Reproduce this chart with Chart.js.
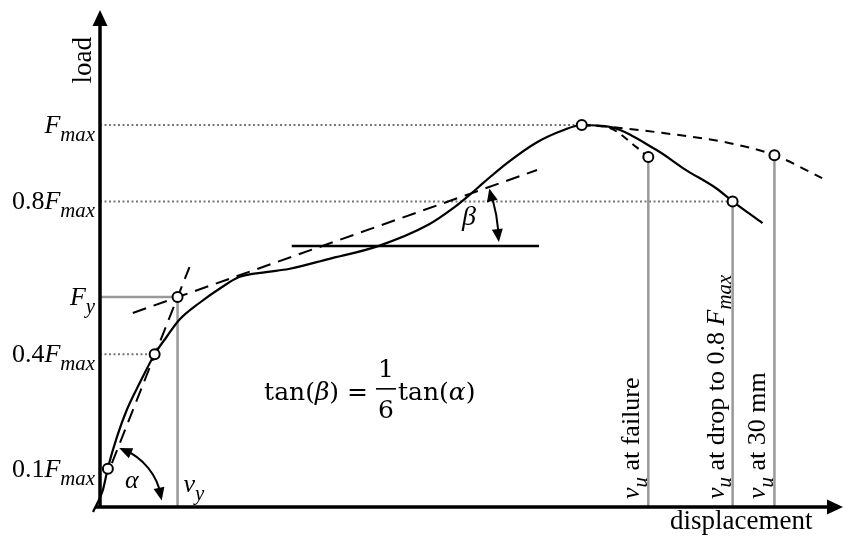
<!DOCTYPE html>
<html>
<head>
<meta charset="utf-8">
<script src="https://cdn.jsdelivr.net/npm/chart.js@4.4.1/dist/chart.umd.min.js"></script>
<style>
    body { margin: 0; background: #fff; }
    #wrap { width: 850px; height: 537px; }
</style>
</head>
<body>
<div id="wrap"><canvas id="chart"></canvas></div>
<script>
// displacement in mm, load as a fraction of Fmax
const loadCurve = [
    [-0.31, -0.013], [0.13, 0.045], [0.35, 0.102], [0.75, 0.183], [1.19, 0.254], [1.77, 0.325],
    [2.43, 0.40], [2.96, 0.445], [3.53, 0.49], [4.42, 0.534], [5.43, 0.576], [6.19, 0.602],
    [7.38, 0.615], [8.39, 0.623], [10.16, 0.649], [12.37, 0.683], [14.58, 0.738], [15.77, 0.785],
    [16.44, 0.817], [17.10, 0.851], [18.12, 0.901], [19.44, 0.955], [20.63, 0.987], [21.43, 1.0],
    [22.67, 0.995], [24.74, 0.935], [26.07, 0.882], [27.39, 0.835], [28.14, 0.80], [29.47, 0.743]
];
const initialTangent = [[0.53, 0.115], [3.98, 0.628]];
const postYieldTangent = [[1.46, 0.508], [19.44, 0.882]];
const horizontalRef = [[8.53, 0.683], [19.53, 0.683]];
const failureBranch = [[21.43, 1.0], [22.67, 0.992], [23.86, 0.942], [24.39, 0.916]];
const extrapolated = [[21.43, 1.0], [22.67, 0.995], [25.05, 0.979], [27.97, 0.953], [30.0, 0.921], [32.12, 0.861]];
const markers = [[0.35, 0.1], [2.43, 0.4], [3.45, 0.55], [21.43, 1.0], [24.39, 0.916], [28.14, 0.8], [30.0, 0.921]];

const yieldPoint = [3.45, 0.55];
const dottedLevels = [[1.0, 21.43], [0.8, 28.14], [0.4, 2.43]];   // [load, end displacement]
const ultimateDisp = [24.39, 28.14, 30.0];
const ultimateLoad = [0.916, 0.8, 0.921];
const ultimateLabels = [
    [{t: 'v', it: true}, {t: 'u', it: true, sub: true}, {t: ' at failure'}],
    [{t: 'v', it: true}, {t: 'u', it: true, sub: true}, {t: ' at drop to 0.8 '}, {t: 'F', it: true}, {t: 'max', it: true, sub: true}],
    [{t: 'v', it: true}, {t: 'u', it: true, sub: true}, {t: ' at 30 mm'}]
];

const tickValues = [1.0, 0.8, 0.55, 0.4, 0.1];
const tickPrefix = ['', '0.8', '', '0.4', '0.1'];
const tickSub = ['max', 'max', 'y', 'max', 'max'];

const toXY = arr => arr.map(p => ({x: p[0], y: p[1]}));
const SERIF = '"Liberation Serif", "Times New Roman", serif';

function line(data, opts) {
    return Object.assign({
        data: toXY(data), showLine: true, pointRadius: 0, borderColor: '#000',
        borderWidth: 2, fill: false, clip: false, order: 2
    }, opts);
}

const refLines = [];
refLines.push(line([[0, yieldPoint[1]], yieldPoint], {borderColor: '#999', borderWidth: 2.5, order: 5}));
refLines.push(line([[yieldPoint[0], 0], yieldPoint], {borderColor: '#999', borderWidth: 2.5, order: 5}));
ultimateDisp.forEach((d, i) => {
    refLines.push(line([[d, 0], [d, ultimateLoad[i]]], {borderColor: '#999', borderWidth: 2.5, order: 5}));
});
dottedLevels.forEach(l => {
    refLines.push(line([[0, l[0]], [l[1], l[0]]], {borderColor: '#777', borderWidth: 2, borderDash: [2, 2.5], order: 5}));
});

function richWidth(ctx, segs, size) {
    let w = 0;
    segs.forEach(s => {
        ctx.font = (s.it ? 'italic ' : '') + (s.sub ? size * 0.8 : size) + 'px ' + SERIF;
        w += ctx.measureText(s.t).width;
    });
    return w;
}

function drawRich(ctx, x, y, segs, size) {
    ctx.textAlign = 'left';
    ctx.textBaseline = 'alphabetic';
    segs.forEach(s => {
        ctx.font = (s.it ? 'italic ' : '') + (s.sub ? size * 0.8 : size) + 'px ' + SERIF;
        ctx.fillText(s.t, x, s.sub ? y + size * 0.3 : y);
        x += ctx.measureText(s.t).width;
    });
}

function arrowHead(ctx, x, y, angle, len, half) {
    ctx.save();
    ctx.translate(x, y);
    ctx.rotate(angle);
    ctx.beginPath();
    ctx.moveTo(0, 0);
    ctx.lineTo(-len, -half);
    ctx.lineTo(-len, half);
    ctx.closePath();
    ctx.fill();
    ctx.restore();
}

function angleArc(ctx, cx, cy, r, a0, a1) {
    // a0 < a1, angles measured counterclockwise from +x in degrees
    const s = -a1 * Math.PI / 180, e = -a0 * Math.PI / 180;
    ctx.beginPath();
    ctx.arc(cx, cy, r, s + 0.06, e - 0.06);
    ctx.stroke();
    // upper end points counterclockwise, lower end clockwise
    arrowHead(ctx, cx + r * Math.cos(s), cy + r * Math.sin(s), s - Math.PI / 2 + 0.1, 13, 5.5);
    arrowHead(ctx, cx + r * Math.cos(e), cy + r * Math.sin(e), e + Math.PI / 2 - 0.1, 13, 5.5);
}

const sketchPlugin = {
    id: 'sketch',
    afterDatasetsDraw(chart) {
        const ctx = chart.ctx;
        const xs = chart.scales.x, ys = chart.scales.y;
        const ox = xs.getPixelForValue(0), oy = ys.getPixelForValue(0);
        ctx.save();
        ctx.fillStyle = '#000';
        ctx.strokeStyle = '#000';

        // axes with arrow heads
        ctx.lineWidth = 3.5;
        ctx.beginPath();
        ctx.moveTo(ox, oy + 1.5);
        ctx.lineTo(ox, chart.chartArea.top + 12);
        ctx.moveTo(ox - 4, oy);
        ctx.lineTo(chart.chartArea.right - 12, oy);
        ctx.stroke();
        arrowHead(ctx, ox, chart.chartArea.top, -Math.PI / 2, 16, 7.5);
        arrowHead(ctx, chart.chartArea.right, oy, 0, 16, 7.5);

        // y tick labels
        tickValues.forEach((v, i) => {
            const segs = [];
            if (tickPrefix[i]) segs.push({t: tickPrefix[i]});
            segs.push({t: 'F', it: true}, {t: tickSub[i], it: true, sub: true});
            const w = richWidth(ctx, segs, 26);
            drawRich(ctx, ox - 5 - w, ys.getPixelForValue(v) + 8, segs, 26);
        });

        // axis titles
        ctx.font = '27px ' + SERIF;
        ctx.save();
        ctx.translate(ox - 9, 37);
        ctx.rotate(-Math.PI / 2);
        ctx.textAlign = 'right';
        ctx.fillText('load', 0, 0);
        ctx.restore();
        ctx.textAlign = 'left';
        ctx.fillText('displacement', 670, oy + 22);

        // ultimate displacement labels
        ultimateDisp.forEach((d, i) => {
            ctx.save();
            ctx.translate(xs.getPixelForValue(d) - 9, oy - 8);
            ctx.rotate(-Math.PI / 2);
            drawRich(ctx, 0, 0, ultimateLabels[i], 26);
            ctx.restore();
        });

        // v_y, alpha, beta
        drawRich(ctx, xs.getPixelForValue(yieldPoint[0]) + 6, oy - 15, [{t: 'v', it: true}, {t: 'y', it: true, sub: true}], 26);
        drawRich(ctx, ox + 25, oy - 19, [{t: 'α', it: true}], 26);

        ctx.lineWidth = 2;
        angleArc(ctx, ox, oy, 62, 6, 72);
        const by = ys.getPixelForValue(horizontalRef[0][1]);
        const slope = (postYieldTangent[1][1] - postYieldTangent[0][1]) / (postYieldTangent[1][0] - postYieldTangent[0][0]);
        const bx = xs.getPixelForValue(postYieldTangent[0][0] + (horizontalRef[0][1] - postYieldTangent[0][1]) / slope);
        angleArc(ctx, bx, by, 177, 1.3, 19);
        drawRich(ctx, bx + 140, by - 21, [{t: 'β', it: true}], 28);

        // formula tan(β) = 1/6 tan(α)
        const fx = xs.getPixelForValue(7.3), fy = ys.getPixelForValue(0.28);
        const MATH = '"DejaVu Serif", serif';
        const fs = 25;
        ctx.font = fs + 'px ' + MATH;
        ctx.textAlign = 'left';
        let x = fx;
        ctx.fillText('tan(', x, fy); x += ctx.measureText('tan(').width;
        ctx.font = 'italic ' + fs + 'px ' + MATH;
        ctx.fillText('β', x, fy); x += ctx.measureText('β').width;
        ctx.font = fs + 'px ' + MATH;
        ctx.fillText(') = ', x, fy); x += ctx.measureText(') = ').width;
        ctx.textAlign = 'center';
        ctx.fillText('1', x + 10, fy - 23);
        ctx.fillText('6', x + 10, fy + 18);
        ctx.fillRect(x, fy - 12, 20, 1.6);
        ctx.textAlign = 'left';
        x += 22;
        ctx.fillText('tan(', x, fy); x += ctx.measureText('tan(').width;
        ctx.font = 'italic ' + fs + 'px ' + MATH;
        ctx.fillText('α', x, fy); x += ctx.measureText('α').width;
        ctx.font = fs + 'px ' + MATH;
        ctx.fillText(')', x, fy);
        ctx.restore();
    }
};

new Chart(document.getElementById('chart'), {
    type: 'scatter',
    data: {
        datasets: [
            {data: toXY(markers), pointRadius: 5, pointBorderWidth: 2, pointBackgroundColor: '#fff',
             pointBorderColor: '#000', showLine: false, clip: false, order: 0},
            line(loadCurve, {borderWidth: 2.2, cubicInterpolationMode: 'monotone', order: 1}),
            line(initialTangent, {borderDash: [14, 8]}),
            line(postYieldTangent, {borderDash: [14, 8]}),
            line(horizontalRef, {borderWidth: 2.5}),
            line(failureBranch, {borderDash: [8, 6], cubicInterpolationMode: 'monotone'}),
            line(extrapolated, {borderDash: [9, 7], cubicInterpolationMode: 'monotone'}),
            ...refLines
        ]
    },
    options: {
        responsive: true,
        maintainAspectRatio: false,
        animation: false,
        layout: {padding: {left: 100, right: 2, top: 10, bottom: 30}},
        scales: {
            x: {type: 'linear', min: 0, max: 33.05, display: false},
            y: {type: 'linear', min: 0, max: 1.301, display: false}
        },
        plugins: {legend: {display: false}, tooltip: {enabled: false}}
    },
    plugins: [sketchPlugin]
});
</script>
</body>
</html>
